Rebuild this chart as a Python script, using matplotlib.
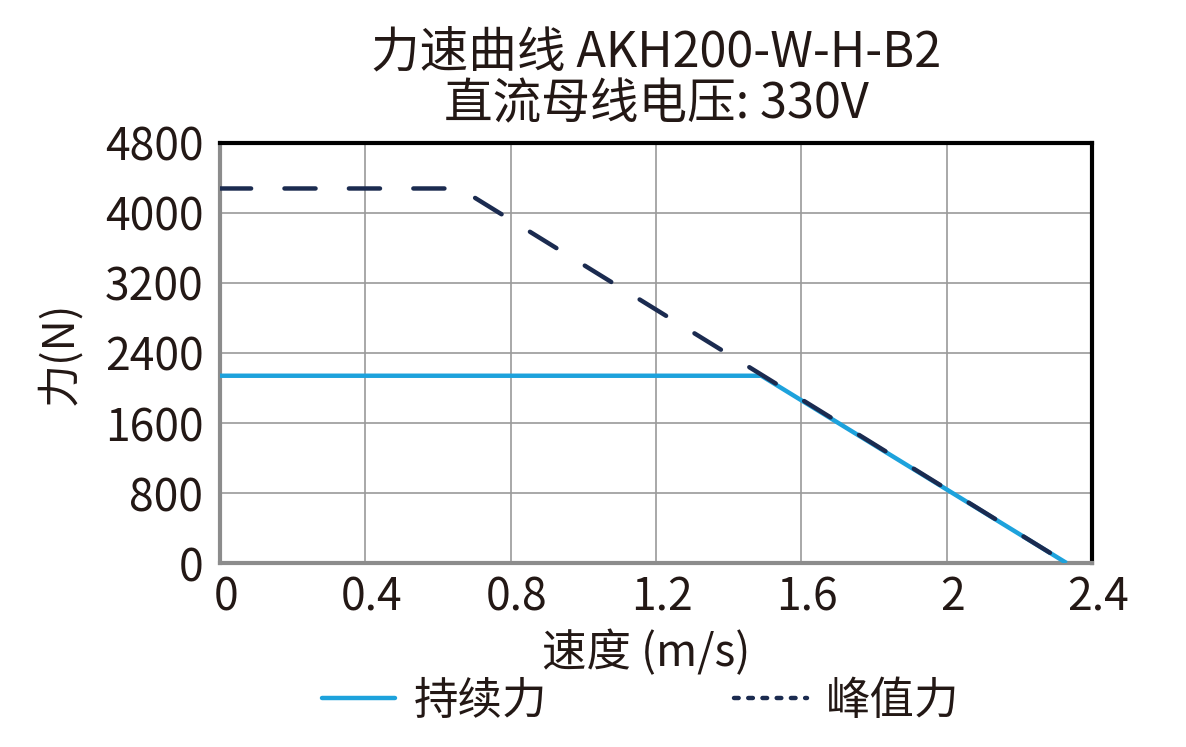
import matplotlib
matplotlib.use("Agg")
import matplotlib.pyplot as plt
import matplotlib.transforms as mtransforms
from matplotlib.lines import Line2D

plt.rcParams['font.family'] = ['Noto Sans CJK SC', 'DejaVu Sans']
plt.rcParams['font.size'] = 30

# 数据: 速度 (m/s) / 力 (N)
cont_speed = [0, 1.49, 2.33]
cont_force = [2140, 2140, 0]
peak_speed = [0, 0.66, 2.33]
peak_force = [4280, 4280, 0]

x_ticks = [0, 0.4, 0.8, 1.2, 1.6, 2.0, 2.4]
x_labels = ["0", "0.4", "0.8", "1.2", "1.6", "2", "2.4"]
y_ticks = [0, 800, 1600, 2400, 3200, 4000, 4800]

title = "力速曲线 AKH200-W-H-B2\n直流母线电压: 330V"
cont_name = "持续力"
peak_name = "峰值力"

blue = "#1DA2DC"
navy = "#1B2B50"
text_color = "#231815"

fig = plt.figure(figsize=(11.86, 7.47), dpi=100)
ax = fig.add_axes([0.1855, 0.2463, 0.7352, 0.5623])

ax.plot(cont_speed, cont_force, color=blue, lw=3.2, solid_capstyle="butt", zorder=3)
ax.plot(peak_speed, peak_force, color=navy, lw=3.2, dashes=(7.0, 7.5),
        dash_capstyle="round", zorder=4)

ax.set_xlim(0, 2.4)
ax.set_ylim(0, 4800)
ax.set_xticks(x_ticks)
ax.set_xticklabels(x_labels)
ax.set_yticks(y_ticks)
ax.tick_params(length=0, colors=text_color, labelsize=32)
ax.tick_params(axis="y", pad=12)
ax.tick_params(axis="x", pad=8)
ax.grid(True, color="#9a9a9a", lw=1.2, zorder=0)
ax.set_axisbelow(True)

# x 刻度标签略微右移
shift = mtransforms.ScaledTranslation(6 / 100, 0, fig.dpi_scale_trans)
for lbl in ax.get_xticklabels():
    lbl.set_transform(lbl.get_transform() + shift)

for side in ["top", "right"]:
    ax.spines[side].set_color("black")
    ax.spines[side].set_linewidth(3)
for side in ["left", "bottom"]:
    ax.spines[side].set_color("#8c8c8c")
    ax.spines[side].set_linewidth(3)

ax.set_title(title, fontsize=35, color=text_color, pad=18, linespacing=1.05)
ax.set_xlabel("速度 (m/s)", fontsize=32, color=text_color, labelpad=7)
ax.xaxis.label.set_x(0.489)
ax.set_ylabel("力(N)", fontsize=31, color=text_color, labelpad=16)

handles = [
    Line2D([], [], color=blue, lw=3.2, solid_capstyle="round"),
    Line2D([], [], color=navy, lw=3.2, dashes=(1.05, 2.15), dash_capstyle="round"),
]
fig.legend(handles, [cont_name, peak_name], loc="center", bbox_to_anchor=(0.54, 0.062),
           ncol=2, frameon=False, fontsize=32, handlelength=1.65, handletextpad=0.42,
           columnspacing=4.2, labelcolor=text_color)

fig.savefig("out.png", dpi=100)
